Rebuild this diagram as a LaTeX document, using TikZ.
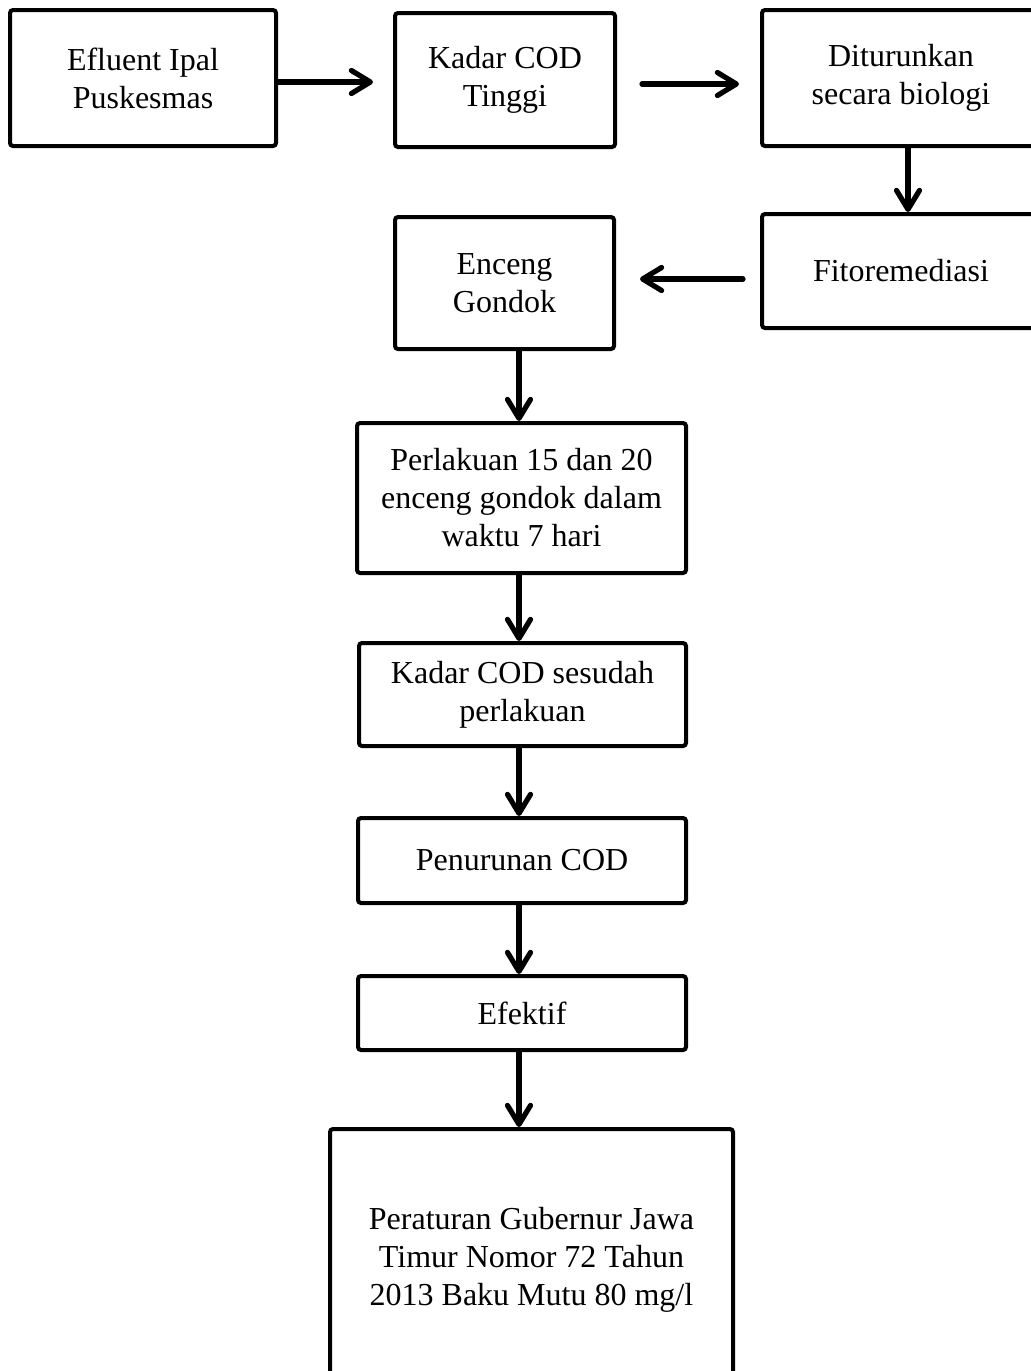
\documentclass[tikz,border=0pt]{standalone}
\usepackage{fontspec}
\setmainfont{Liberation Serif}
\usetikzlibrary{arrows.meta,calc}
\tikzset{
  box/.style={draw=black, line width=2pt, rounded corners=1.5pt, inner sep=0pt,
    align=center, font=\fontsize{16pt}{19pt}\selectfont},
  arrow/.style={-{Straight Barb[length=9.5pt, width=11.5pt, line join=round, line cap=round]},
    line width=2.6pt, line cap=round},
}

\begin{document}
\begin{tikzpicture}[x=0.5pt,y=-0.5pt]
  \useasboundingbox (0,0) rectangle (1031,1371);
  % top row
  \node[box, minimum width=133pt, minimum height=68pt] (eff) at (143,78) {Efluent Ipal\\Puskesmas};
  \node[box, minimum width=110pt, minimum height=67pt] (kadar) at (505,80) {Kadar COD\\Tinggi};
  \node[box, minimum width=139pt, minimum height=68pt] (turun) at (901,78) {Diturunkan\\secara biologi};
  % second row
  \node[box, minimum width=139pt, minimum height=57pt] (fito) at (901,271) {Fitoremediasi};
  \node[box, minimum width=109.5pt, minimum height=66pt] (enceng) at (504.5,283) {Enceng\\Gondok};
  % column
  \node[box, minimum width=164.5pt, minimum height=75pt] (perl) at (521.5,498) {Perlakuan 15 dan 20\\enceng gondok dalam\\waktu 7 hari};
  \node[box, minimum width=163.5pt, minimum height=51.5pt] (kadar2) at (522.5,694.5) {Kadar COD sesudah\\perlakuan};
  \node[box, minimum width=164pt, minimum height=42.5pt] (pen) at (522,860.5) {Penurunan COD};
  \node[box, minimum width=164pt, minimum height=37pt] (efek) at (522,1013) {Efektif};
  \node[box, minimum width=201.5pt, minimum height=130.5pt] (pergub) at (531.5,1259.5) {Peraturan Gubernur Jawa\\Timur Nomor 72 Tahun\\2013 Baku Mutu 80 mg/l};

  \coordinate (col) at (519,0);
  % arrows
  \draw[arrow, shorten >=10pt] ([yshift=-2pt]eff.east) -- ([yshift=-2pt]eff.east -| kadar.west);
  \draw[arrow, shorten <=12.5pt, shorten >=10.5pt] ([yshift=-2pt]kadar.east) -- ([yshift=-2pt]kadar.east -| turun.west);
  \draw[arrow] ([xshift=3.5pt]turun.south) -- ([xshift=3.5pt]turun.south |- fito.north);
  \draw[arrow, shorten <=8.5pt, shorten >=12pt] ([yshift=-4pt]fito.west) -- ([yshift=-4pt]fito.west -| enceng.east);
  \draw[arrow] (enceng.south -| col) -- (perl.north -| col);
  \draw[arrow] (perl.south -| col) -- (kadar2.north -| col);
  \draw[arrow] (kadar2.south -| col) -- (pen.north -| col);
  \draw[arrow] (pen.south -| col) -- (efek.north -| col);
  \draw[arrow] (efek.south -| col) -- (pergub.north -| col);
\end{tikzpicture}
\end{document}
